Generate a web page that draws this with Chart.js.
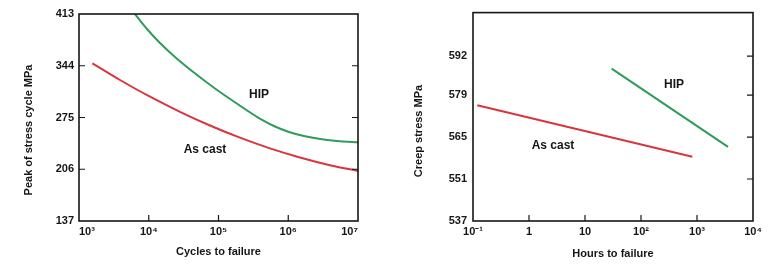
<!DOCTYPE html>
<html><head><meta charset="utf-8">
<script src="https://cdn.jsdelivr.net/npm/chart.js@4.4.1/dist/chart.umd.min.js"></script>
<style>
html,body{margin:0;padding:0;background:#fff;width:768px;height:264px;overflow:hidden}
.box{position:absolute;top:0;width:384px;height:264px}
</style></head><body>
<div class="box" style="left:0"><canvas id="c1" width="384" height="264"></canvas></div>
<div class="box" style="left:384px"><canvas id="c2" width="384" height="264"></canvas></div>
<script>
// ---- Left chart: fatigue ----
const cyclesTicks = [1e3, 1e4, 1e5, 1e6, 1e7];
const cyclesTickLabels = ['10³', '10⁴', '10⁵', '10⁶', '10⁷'];
const stressTicks = [137, 206, 275, 344, 413];
const asCastCycles = [1552, 3875, 10420, 28050, 75500, 203000, 547000, 1470000, 3970000, 10000000];
const asCastFatigue = [347.3, 325, 302.7, 282.6, 264.3, 248.1, 233.8, 221.7, 211.4, 203.7];
const hipCycles = [6350, 9440, 14030, 23780, 41650, 89100, 196800, 380800, 646000, 1026000, 1740000, 3050000, 5520000, 10000000];
const hipFatigue = [413, 393, 375.7, 355.7, 337, 313.7, 291.7, 274.3, 263, 255.7, 249.9, 245.9, 243.4, 241.9];

// ---- Right chart: creep ----
const hoursTicks = [0.1, 1, 10, 100, 1000, 10000];
const hoursTickLabels = ['10⁻¹', '1', '10', '10²', '10³', '10⁴'];
const creepTicks = [537, 551, 565, 579, 592];
const asCastHours = [0.119, 826];
const asCastCreep = [575.6, 558.4];
const hipHours = [29.9, 3580];
const hipCreep = [587.8, 561.7];

const FONT = '"Liberation Sans", Arial, sans-serif';
const INK = '#161616';
const RED = '#d8353c';
const GREEN = '#2f9b5c';

const pts = (xs, ys) => xs.map((x, i) => ({x, y: ys[i]}));

const framePlugin = {
  id: 'frame',
  afterDraw(chart, args, o) {
    const {ctx, chartArea: a, scales: {x, y}} = chart;
    ctx.save();
    ctx.strokeStyle = INK;
    ctx.lineWidth = 1.6;
    ctx.strokeRect(a.left, a.top, a.right - a.left, a.bottom - a.top);
    ctx.lineWidth = 1.2;
    const L = 6;
    ctx.beginPath();
    o.xTicks.forEach(v => {
      const px = x.getPixelForValue(v);
      ctx.moveTo(px, a.bottom); ctx.lineTo(px, a.bottom - L);
    });
    o.yTicks.forEach(v => {
      const py = y.getPixelForValue(v);
      if (o.leftTicks) { ctx.moveTo(a.left, py); ctx.lineTo(a.left + L, py); }
      ctx.moveTo(a.right, py); ctx.lineTo(a.right - L, py);
    });
    ctx.stroke();
    ctx.fillStyle = INK;
    ctx.textAlign = 'center';
    ctx.textBaseline = 'middle';
    ctx.font = 'bold 12px ' + FONT;
    o.labels.forEach(l => ctx.fillText(l.text, x.getPixelForValue(l.x), y.getPixelForValue(l.y)));
    ctx.font = 'bold 11px ' + FONT;
    ctx.translate(o.yTitleX, o.yTitleY);
    ctx.rotate(-Math.PI / 2);
    ctx.fillText(o.yTitle, 0, 0);
    ctx.restore();
  }
};

function makeChart(id, cfg) {
  const tickFont = {family: FONT, size: 11, weight: 'bold'};
  return new Chart(document.getElementById(id), {
    type: 'scatter',
    data: {datasets: cfg.datasets.map(d => ({
      data: d.data, borderColor: d.color, backgroundColor: d.color,
      showLine: true, borderWidth: 2, pointRadius: 0, cubicInterpolationMode: 'monotone'
    }))},
    options: {
      responsive: false, animation: false,
      layout: {padding: cfg.padding},
      plugins: {legend: {display: false}, tooltip: {enabled: false}, frame: cfg.frame},
      scales: {
        x: {
          type: 'logarithmic', min: cfg.xTicks[0], max: cfg.xTicks[cfg.xTicks.length - 1],
          grid: {display: false, drawTicks: false}, border: {display: false},
          afterBuildTicks: s => { s.ticks = cfg.xTicks.map(v => ({value: v})); },
          afterFit: s => { s.height = cfg.xHeight; },
          ticks: {autoSkip: false, maxRotation: 0, minRotation: 0, align: cfg.xAlign, padding: 4, color: INK, font: tickFont,
            callback: v => cfg.xLabels[cfg.xTicks.indexOf(v)]},
          title: {display: true, text: cfg.xTitle, color: INK, font: tickFont, padding: {top: 0, bottom: cfg.xTitlePad}}
        },
        y: {
          type: 'linear', min: cfg.yMin, max: cfg.yMax,
          grid: {display: false, drawTicks: false}, border: {display: false},
          afterBuildTicks: s => { s.ticks = cfg.yTicks.map(v => ({value: v})); },
          afterFit: s => { s.width = cfg.yWidth; },
          ticks: {padding: cfg.yPad, color: INK, font: tickFont, callback: v => String(v)}
        }
      }
    },
    plugins: [framePlugin]
  });
}

makeChart('c1', {
  datasets: [
    {data: pts(asCastCycles, asCastFatigue), color: RED},
    {data: pts(hipCycles, hipFatigue), color: GREEN}
  ],
  padding: {left: 0, right: 26, top: 14, bottom: 0},
  xTicks: cyclesTicks, xLabels: cyclesTickLabels, xAlign: 'inner', xHeight: 43,
  xTitle: 'Cycles to failure', xTitlePad: 5,
  yMin: 137, yMax: 413, yTicks: stressTicks, yWidth: 79, yPad: 5,
  frame: {
    xTicks: [1e4, 1e5, 1e6], yTicks: [206, 275, 344], leftTicks: true,
    labels: [{text: 'HIP', x: 381000, y: 305}, {text: 'As cast', x: 64000, y: 231.5}],
    yTitle: 'Peak of stress cycle MPa', yTitleX: 29, yTitleY: 130
  }
});

makeChart('c2', {
  datasets: [
    {data: pts(asCastHours, asCastCreep), color: RED},
    {data: pts(hipHours, hipCreep), color: GREEN}
  ],
  padding: {left: 0, right: 15, top: 9, bottom: 0},
  xTicks: hoursTicks, xLabels: hoursTickLabels, xAlign: 'center', xHeight: 43,
  xTitle: 'Hours to failure', xTitlePad: 3,
  yMin: 537, yMax: 606.5, yTicks: creepTicks, yWidth: 89, yPad: 6,
  frame: {
    xTicks: [1, 10, 100, 1000], yTicks: [551, 565, 579, 592], leftTicks: false,
    labels: [{text: 'HIP', x: 388, y: 582.3}, {text: 'As cast', x: 2.68, y: 562}],
    yTitle: 'Creep stress MPa', yTitleX: 35, yTitleY: 131
  }
});
</script>
</body></html>
